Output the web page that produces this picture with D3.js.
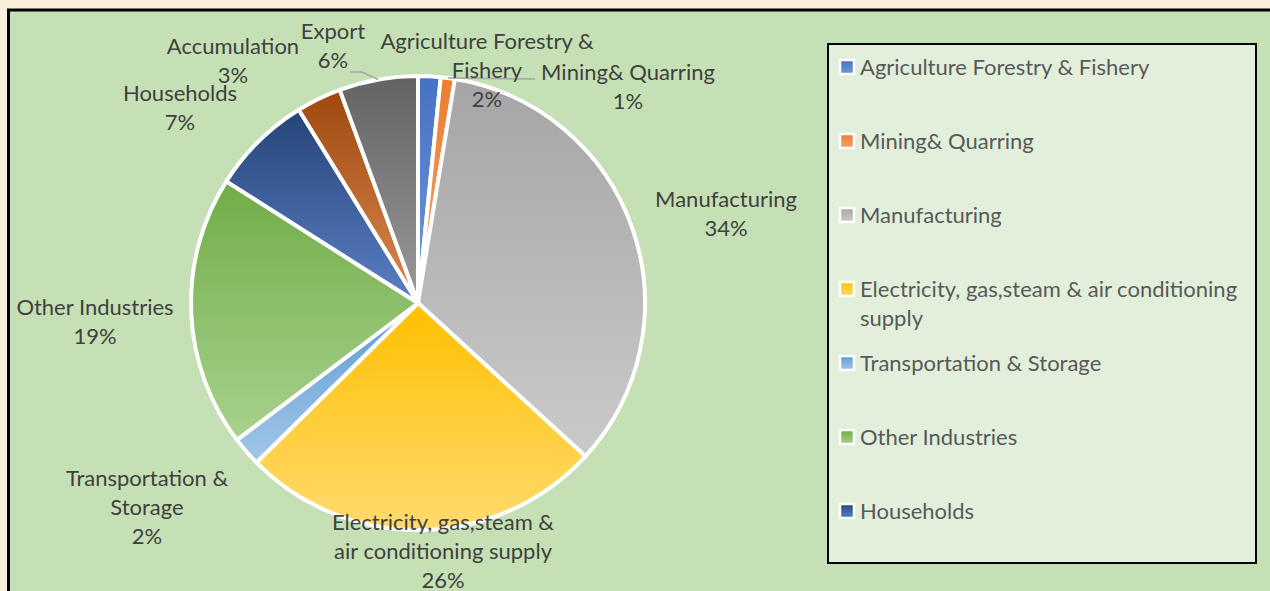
<!DOCTYPE html>
<html>
<head>
<meta charset="utf-8">
<script src="https://cdn.jsdelivr.net/npm/d3@7"></script>
<style>
	html, body { margin: 0; padding: 0; background: #fcefda; }
	svg { display: block; }
	text { font-family: Lato, "Open Sans", sans-serif; }
</style>
</head>
<body>
<div id="chart"></div>
<script>

// data
// ----------------------------------------

var categories = [
	"Agriculture Forestry & Fishery",
	"Mining& Quarring",
	"Manufacturing",
	"Electricity, gas,steam & air conditioning supply",
	"Transportation & Storage",
	"Other Industries",
	"Households",
	"Accumulation",
	"Export"
];
var values = [1.6, 1.0, 34.2, 25.8, 2.1, 19.3, 7.2, 3.2, 5.6];
var inLegend = [true, true, true, true, true, true, true, false, false];

// label text as shown on the chart (line breaks as in the picture)
var labelLines = [
	["Agriculture Forestry &", "Fishery"],
	["Mining& Quarring"],
	["Manufacturing"],
	["Electricity, gas,steam &", "air conditioning supply"],
	["Transportation &", "Storage"],
	["Other Industries"],
	["Households"],
	["Accumulation"],
	["Export"]
];
var legendLines = [
	["Agriculture Forestry & Fishery"],
	["Mining& Quarring"],
	["Manufacturing"],
	["Electricity, gas,steam & air conditioning", "supply"],
	["Transportation & Storage"],
	["Other Industries"],
	["Households"]
];

// style
// ----------------------------------------

var baseColors = ["#4472c4", "#ed7d31", "#a5a5a5", "#ffc000", "#5b9bd5", "#70ad47", "#264478", "#9e480e", "#636363"];
var lightColors = ["#7298d8", "#f4a46e", "#cacaca", "#ffda6e", "#a3c7e8", "#a9d18e", "#5a80c6", "#dc8a52", "#9a9a9a"];

var width = 1270, height = 591;
var cx = 418, cy = 303, radius = 227;
var fontSize = 22;

// label placement (center of the first text line), picked by hand like Excel does
var labelPos = [
	[487, 41], [628, 72], [726, 199], [443, 522], [147, 478],
	[95, 307], [180, 93], [233, 46], [333, 31]
];
var lineH = 29.3;

var svg = d3.select("#chart")
	.append("svg")
	.attr("width", width)
	.attr("height", height);

var defs = svg.append("defs");
categories.forEach(function(c, i){
	var g = defs.append("linearGradient")
		.attr("id", "grad" + i)
		.attr("x1", 0).attr("y1", 0).attr("x2", 0).attr("y2", 1);
	g.append("stop").attr("offset", "0%").attr("stop-color", baseColors[i]);
	g.append("stop").attr("offset", "100%").attr("stop-color", lightColors[i]);
});

// chart area
svg.append("rect")
	.attr("x", 8.5).attr("y", 10)
	.attr("width", width + 20).attr("height", height + 20)
	.attr("fill", "#c5e0b4")
	.attr("stroke", "#000")
	.attr("stroke-width", 3);

// pie
// ----------------------------------------

var data = categories.map(function(c, i){ return {name: c, value: values[i], i: i}; });

var pie = d3.pie()
	.sort(null)
	.value(function(d){ return d.value; });

var arc = d3.arc()
	.innerRadius(0)
	.outerRadius(radius);

var arcs = pie(data);

var plot = svg.append("g")
	.attr("transform", "translate(" + cx + "," + cy + ")");

plot.selectAll("path")
	.data(arcs)
	.enter()
	.append("path")
	.attr("d", arc)
	.attr("fill", function(d){ return "url(#grad" + d.data.i + ")"; })
	.attr("stroke", "#fff")
	.attr("stroke-width", 4)
	.attr("stroke-linejoin", "round");

// leader lines for the two crowded labels
function edgePoint(d){
	var a = (d.startAngle + d.endAngle) / 2;
	return [cx + radius * Math.sin(a), cy - radius * Math.cos(a)];
}

var mining = edgePoint(arcs[1]);
svg.append("path")
	.attr("d", d3.line()([[535, 79], mining]))
	.attr("fill", "none")
	.attr("stroke", "#a6a6a6")
	.attr("stroke-width", 1.5);

var exp = edgePoint(arcs[8]);
svg.append("path")
	.attr("d", d3.line()([[350, 72], [362, 72], exp]))
	.attr("fill", "none")
	.attr("stroke", "#a6a6a6")
	.attr("stroke-width", 1.5);

// data labels
var labels = svg.append("g").attr("class", "labels");
arcs.forEach(function(d, i){
	var lines = labelLines[i].concat([Math.round(d.data.value) + "%"]);
	var t = labels.append("text")
		.attr("text-anchor", "middle")
		.attr("fill", "#404040")
		.attr("font-size", fontSize);
	lines.forEach(function(l, k){
		t.append("tspan")
			.attr("x", labelPos[i][0])
			.attr("y", labelPos[i][1] + k * lineH)
			.attr("dy", "0.35em")
			.text(l);
	});
});

// legend
// ----------------------------------------

var legend = svg.append("g").attr("class", "legend");
legend.append("rect")
	.attr("x", 828).attr("y", 44)
	.attr("width", 428).attr("height", 519)
	.attr("fill", "#e2efda")
	.attr("stroke", "#000")
	.attr("stroke-width", 2);

var legendY = d3.scalePoint()
	.domain(d3.range(legendLines.length))
	.range([67, 511]);

var items = data.filter(function(d){ return inLegend[d.i]; });
items.forEach(function(d, k){
	var y = legendY(k);
	legend.append("rect")
		.attr("x", 840).attr("y", y - 7)
		.attr("width", 14).attr("height", 14)
		.attr("fill", "url(#grad" + d.i + ")")
		.attr("stroke", "#fff")
		.attr("stroke-width", 2.5);
	var t = legend.append("text")
		.attr("fill", "#595959")
		.attr("font-size", fontSize);
	legendLines[k].forEach(function(l, j){
		t.append("tspan")
			.attr("x", 860)
			.attr("y", y + j * 29.5)
			.attr("dy", "0.35em")
			.text(l);
	});
});

</script>
</body>
</html>
